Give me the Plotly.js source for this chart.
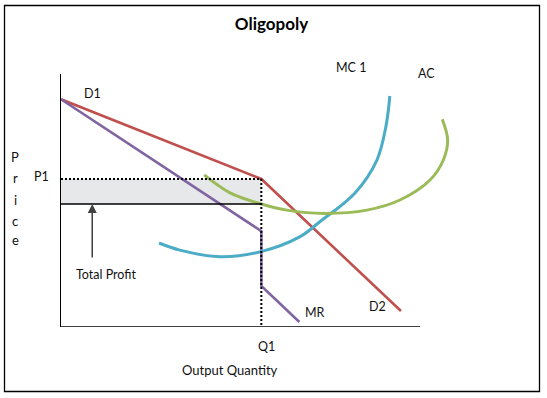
<!DOCTYPE html>
<html>
<head>
<meta charset="utf-8">
<script src="https://cdn.plot.ly/plotly-3.0.1.min.js"></script>
<style>
  html, body { margin: 0; padding: 0; background: #ffffff; }
  #chart { width: 547px; height: 398px; }
</style>
</head>
<body>
<div id="chart"></div>
<script>
// Conceptual diagram values (quantity and price units 0..100)
const demandQ = [0, 55.8, 94.7];
const demandP = [90, 58.5, 6.3];
const mrQ = [0, 55.8, 55.8, 66.4];
const mrP = [90, 37.9, 16.2, 2.0];
const mcQ = [27.3, 33.1, 44.3, 55.7, 66.6, 72.1, 81.9, 88.0, 90.5, 91.6];
const mcP = [33.2, 30.4, 27.8, 29.8, 35.7, 41.6, 53.0, 66.0, 79.2, 91.3];
const acQ = [39.9, 47.1, 55.8, 62.9, 73.5, 85.2, 94.4, 102.8, 106.5, 107.7, 106.2];
const acP = [60.1, 53.0, 48.6, 46.2, 44.9, 46.2, 50.2, 58.1, 66.0, 73.9, 82.1];
const Q1 = 55.8;
const P1 = 58.5;
const AC1 = 48.6;
const xAxisEnd = 100;
const yLetters = 'Price'.split('');

const FONT = 'Lato, "Open Sans", sans-serif';

const traces = [
  {x: demandQ, y: demandP, mode: 'lines', line: {color: '#c0504d', width: 2.6}},
  {x: mrQ, y: mrP, mode: 'lines', line: {color: '#8064a2', width: 2.6}},
  {x: mcQ, y: mcP, mode: 'lines', line: {color: '#4bacc6', width: 3, shape: 'spline', smoothing: 1}},
  {x: acQ, y: acP, mode: 'lines', line: {color: '#9bbb59', width: 3, shape: 'spline', smoothing: 1}}
];

// paper-coordinate helpers (pixel -> paper fraction)
const plotL = 61, plotR = 470, plotT = 74, plotB = 327;
const px = v => (v - plotL) / (plotR - plotL);
const py = v => (plotB - v) / (plotB - plotT);

const shapes = [
  {type: 'rect', xref: 'x', yref: 'y', x0: 0, x1: Q1, y0: AC1, y1: P1,
   fillcolor: '#e7e8ea', line: {width: 0}, layer: 'below'},
  {type: 'line', xref: 'x', yref: 'y', x0: 0, x1: Q1, y0: AC1, y1: AC1,
   line: {color: '#000', width: 1.5}, layer: 'above'},
  {type: 'line', xref: 'x', yref: 'y', x0: 0, x1: Q1, y0: P1, y1: P1,
   line: {color: '#000', width: 2, dash: '2px,2px'}, layer: 'above'},
  {type: 'line', xref: 'x', yref: 'y', x0: Q1, x1: Q1, y0: P1, y1: 0,
   line: {color: '#000', width: 2, dash: '2px,2px'}, layer: 'above'},
  {type: 'line', xref: 'x', yref: 'y', x0: 0, x1: xAxisEnd, y0: 0, y1: 0,
   line: {color: '#000', width: 1.5}, layer: 'above'},
  {type: 'rect', xref: 'paper', yref: 'paper', x0: px(4.5), x1: px(539.5), y0: py(391.5), y1: py(5.5),
   line: {color: '#000', width: 1.3}, fillcolor: 'rgba(0,0,0,0)', layer: 'above'}
];

const lab = (text, x, y, size) => ({text: text, x: px(x), y: py(y), xref: 'paper', yref: 'paper', showarrow: false,
  font: {family: FONT, size: size || 12.5, color: '#111'}, xanchor: 'center', yanchor: 'middle'});

const annotations = [
  lab('D1', 92, 93),
  lab('MC 1', 351, 68),
  lab('AC', 426.5, 73),
  lab('P1', 41.5, 176.7),
  lab('Total Profit', 106, 274),
  lab('MR', 314.5, 312.7),
  lab('D2', 377, 306),
  lab('Q1', 266.5, 346.7),
  lab('Output Quantity', 229.5, 370, 13),
  {text: '', x: 8.7, y: AC1, ax: 8.7, ay: 26.9, xref: 'x', yref: 'y', axref: 'x', ayref: 'y',
   showarrow: true, arrowhead: 2, arrowsize: 1.2, arrowwidth: 1.5, arrowcolor: '#404040', standoff: 0}
];
const letterY = [157, 178, 200, 221, 240];
yLetters.forEach((ch, i) => {
  annotations.push(lab(ch, 15, letterY[i], 13));
});

const layout = {
  width: 547, height: 398,
  margin: {l: plotL, r: 547 - plotR, t: plotT, b: 398 - plotB, pad: 0},
  paper_bgcolor: '#ffffff', plot_bgcolor: 'rgba(0,0,0,0)',
  showlegend: false,
  title: {text: '<b>Oligopoly</b>', x: 271.5 / 547, xref: 'container', xanchor: 'center',
          y: 1 - 24 / 398, yref: 'container', yanchor: 'middle',
          font: {family: FONT, size: 17, color: '#000'}},
  xaxis: {range: [0, (plotR - plotL) / 3.59], showgrid: false, zeroline: false, showline: false,
          showticklabels: false, ticks: '', fixedrange: true},
  yaxis: {range: [0, 100], showgrid: false, zeroline: false, showline: true, linecolor: '#000',
          linewidth: 1.5, mirror: false, showticklabels: false, ticks: '', fixedrange: true},
  shapes: shapes,
  annotations: annotations
};

Plotly.newPlot('chart', traces, layout, {staticPlot: true, displayModeBar: false});
</script>
</body>
</html>
